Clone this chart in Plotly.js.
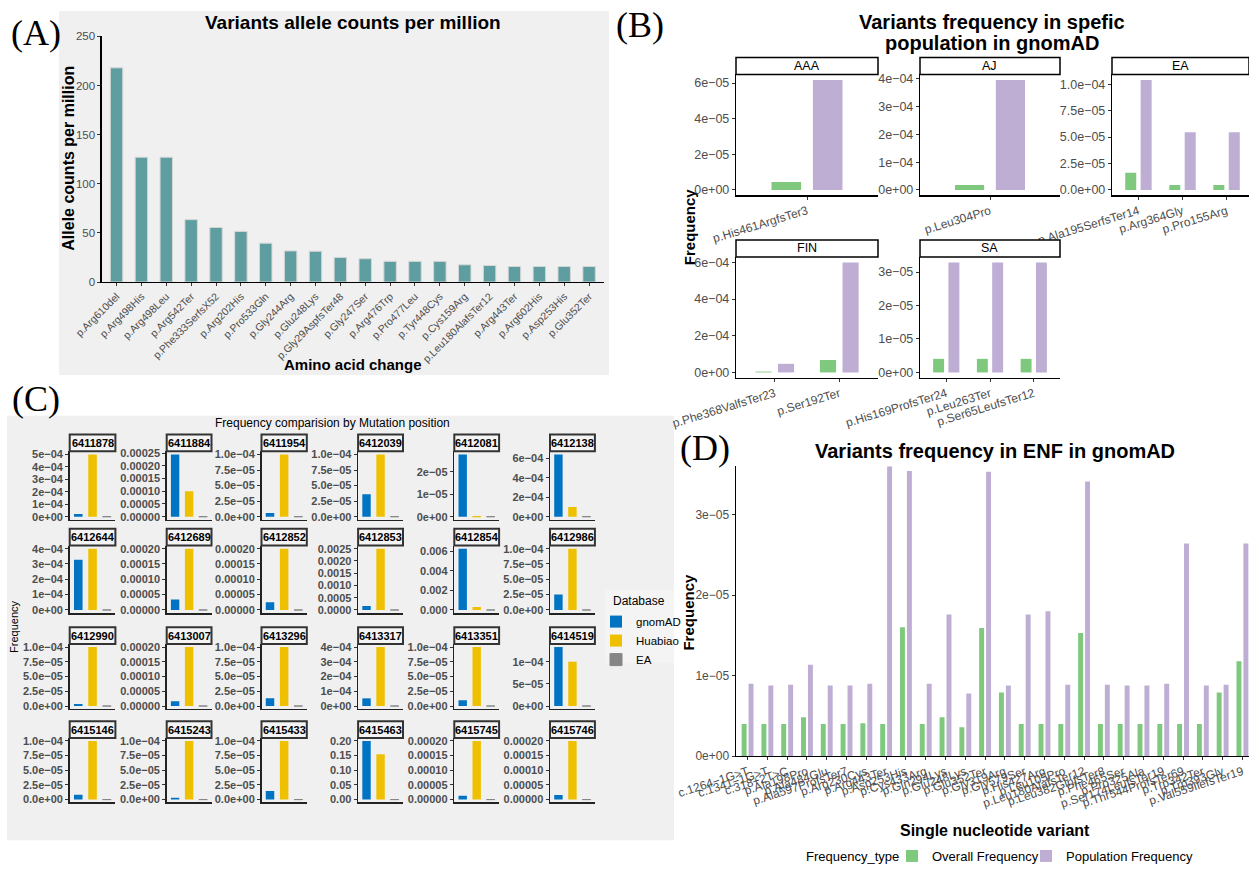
<!DOCTYPE html>
<html><head><meta charset="utf-8">
<script src="https://cdn.plot.ly/plotly-3.0.1.min.js"></script>
<style>html,body{margin:0;padding:0;background:#fff}</style>
</head><body><div id="chart" style="width:1249px;height:871px"></div>
<script>
// ---------------- Panel A data ----------------
const aVariants = ['p.Arg610del','p.Arg498His','p.Arg498Leu','p.Arg542Ter','p.Phe333SerfsX52','p.Arg202His','p.Pro533Gln','p.Gly244Arg','p.Glu248Lys','p.Gly29AspfsTer48','p.Gly247Ser','p.Arg476Trp','p.Pro477Leu','p.Tyr448Cys','p.Cys159Arg','p.Leu180AlafsTer12','p.Arg443Ter','p.Arg602His','p.Asp253His','p.Glu352Ter'];
const aCounts = [218,127,127,63.5,55.5,51.5,39.5,31.7,31.3,25,23.7,21,21,21,17.5,16.8,15.8,15.8,15.8,15.8];

// ---------------- Panel B data ----------------
const bAAAVariants = ['p.His461ArgfsTer3'];
const bAAAOverall = [4.5e-6];
const bAAAPopulation = [6.18e-5];
const bAJVariants = ['p.Leu304Pro'];
const bAJOverall = [1.8e-5];
const bAJPopulation = [3.96e-4];
const bEAVariants = ['p.Ala195SerfsTer14','p.Arg364Gly','p.Pro155Arg'];
const bEAOverall = [1.62e-5,4.7e-6,4.7e-6];
const bEAPopulation = [1.04e-4,5.44e-5,5.44e-5];
const bFINVariants = ['p.Phe368ValfsTer23','p.Ser192Ter'];
const bFINOverall = [4.5e-6,6.8e-5];
const bFINPopulation = [4.7e-5,6.0e-4];
const bSAVariants = ['p.His169ProfsTer24','p.Leu263Ter','p.Ser65LeufsTer12'];
const bSAOverall = [4.06e-6,4.06e-6,4.06e-6];
const bSAPopulation = [3.29e-5,3.29e-5,3.29e-5];

// ---------------- Panel C data ----------------
const cPositions = ['6411878','6411884','6411954','6412039','6412081','6412138',
                    '6412644','6412689','6412852','6412853','6412854','6412986',
                    '6412990','6413007','6413296','6413317','6413351','6414519',
                    '6415146','6415243','6415433','6415463','6415745','6415746'];
const cDatabases = ['gnomAD','Huabiao','EA'];
const cGnomAD = [2.2e-5,2.45e-4,5.9e-6,3.6e-5,2.77e-5,6.4e-4,
                 3.27e-4,3.4e-5,2.5e-5,1.6e-4,6.27e-3,2.53e-5,
                 3.2e-6,1.6e-5,1.3e-5,5.2e-5,9.7e-6,1.33e-4,
                 8.1e-6,3.2e-6,1.46e-5,0.2,1.3e-5,1.6e-5];
const cHuabiao = [5e-4,1e-4,1e-4,1e-4,0,1e-4,
                  4e-4,2e-4,2e-4,2.5e-3,3e-4,1e-4,
                  1e-4,2e-4,1e-4,4e-4,1e-4,1e-4,
                  1e-4,1e-4,1e-4,0.155,2e-4,2e-4];
const cEA = [0,0,0,0,0,0, 0,0,0,0,0,0, 0,0,0,0,0,0, 0,0,0,0,0,0];
// y tick step, number of ticks and label format per facet
const cTickStep = [1e-4,5e-5,2.5e-5,2.5e-5,1e-5,2e-4, 1e-4,5e-5,5e-5,5e-4,2e-3,2.5e-5, 2.5e-5,5e-5,2.5e-5,1e-4,2.5e-5,5e-5, 2.5e-5,2.5e-5,2.5e-5,0.05,5e-5,5e-5];
const cTickCount = [6,6,5,5,3,4, 5,5,5,6,4,5, 5,5,5,5,5,3, 5,5,5,5,5,5];
const cTickFormat = ['e0','f5','e1','e1','e0','e0', 'e0','f5','f5','f4','f3','e1', 'e1','f5','e1','e0','e1','e0', 'e1','e1','e1','f2','f5','f5'];

// ---------------- Panel D data ----------------
const dVariants = ['c.1264-1G>T','c.1341-1G>T','c.318+2T>C','p.Ala198Pro','p.Ala484Glu','p.Ala597ProfsTer7','p.Arg230Cys','p.Arg443Ter','p.Asp253His','p.Cys433Arg','p.Gln294Lys','p.Glu248Lys','p.Glu352Ter','p.Gly319Arg','p.Gly579Ser','p.His427Arg','p.Leu105Pro','p.Leu180AlafsTer12','p.Leu382GlnfsTer8','p.Phe465Ser','p.Pro325Ala','p.Ser174LeufsTer19','p.Thr544ProfsTer69','p.Trp342Ter','p.Trp393Gly','p.Val559IlefsTer19'];
const dOverall = [4.0e-6,4.0e-6,4.0e-6,4.83e-6,4.0e-6,4.0e-6,4.09e-6,4.0e-6,1.6e-5,4.0e-6,4.83e-6,3.6e-6,1.59e-5,7.9e-6,4.0e-6,4.0e-6,4.0e-6,1.53e-5,4.0e-6,4.0e-6,4.0e-6,4.0e-6,4.0e-6,4.0e-6,7.9e-6,1.18e-5];
const dPopulation = [9.0e-6,8.76e-6,8.88e-6,1.134e-5,8.76e-6,8.76e-6,9.0e-6,3.6e-5,3.54e-5,9.0e-6,1.76e-5,7.78e-6,3.53e-5,8.76e-6,1.76e-5,1.8e-5,8.88e-6,3.41e-5,8.88e-6,8.76e-6,8.76e-6,9.0e-6,2.64e-5,8.76e-6,8.88e-6,2.64e-5];

// ================= build figure =================
const W = 1249, H = 871;
const SANS = 'Liberation Sans, Arial, sans-serif';
const SERIF = 'Liberation Serif, Times New Roman, serif';
const TICKGREY = '#4D4D4D';
const GREEN = '#7FC97F', PURPLE = '#BEAED4';
const JCO = {gnomAD:'#0073C2', Huabiao:'#EFC000', EA:'#868686'};

const data = [];
const layout = {
  width: W, height: H, margin: {l:0, r:0, t:0, b:0}, autosize: false,
  paper_bgcolor: '#FFFFFF', plot_bgcolor: 'rgba(0,0,0,0)',
  barmode: 'overlay', hovermode: false, showlegend: true,
  font: {family: SANS, color: '#000'},
  shapes: [], annotations: []
};

function fmt(v, kind, d) {
  let s = kind === 'e' ? v.toExponential(d).replace(/e([+-])(\d)$/, 'e$10$2') : v.toFixed(d);
  return s.replace(/-/g, '\u2212');
}
function tickSpec(step, count, style) {
  const kind = style[0], d = +style.slice(1);
  const vals = [], txt = [];
  for (let i = 0; i < count; i++) { const v = step * i; vals.push(v); txt.push(fmt(v, kind, d)); }
  return {tickmode: 'array', tickvals: vals, ticktext: txt};
}
function ann(text, x, y, size, opts) {
  layout.annotations.push(Object.assign({
    text: text, x: x / W, y: 1 - y / H, xref: 'paper', yref: 'paper', showarrow: false,
    xanchor: 'center', yanchor: 'middle', font: {size: size, color: '#000', family: SANS}
  }, opts || {}));
}
function rect(x0, y0, x1, y1, fill, line, lw, layer) {
  layout.shapes.push({type: 'rect', xref: 'paper', yref: 'paper',
    x0: x0 / W, x1: Math.min(x1, W) / W, y0: 1 - y1 / H, y1: 1 - y0 / H,
    fillcolor: fill, line: {color: line || 'rgba(0,0,0,0)', width: lw || 0}, layer: layer || 'below'});
}

let axN = 0;
// add a subplot whose plot area spans a pixel box; category x axis with n categories
function addSub(x0, x1, y0, y1, cats, xo, yo) {
  axN++;
  const sx = axN === 1 ? '' : String(axN);
  const n = cats.length;
  const ppu = (x1 - x0) / (n + 0.2);
  let xr = [-0.6, n - 0.4];
  let xr1 = x1;
  if (x1 > W) { xr1 = W; xr = [-0.6, -0.6 + (W - x0) / ppu]; }
  layout['xaxis' + sx] = Object.assign({
    domain: [x0 / W, xr1 / W], anchor: 'y' + sx, type: 'category',
    categoryorder: 'array', categoryarray: cats, range: xr,
    showgrid: false, zeroline: false, showline: true, linecolor: '#000', linewidth: 1.2,
    ticks: 'outside', ticklen: 3, tickcolor: '#333', fixedrange: true,
    tickfont: {size: 11, color: TICKGREY, family: SANS}
  }, xo || {});
  layout['yaxis' + sx] = Object.assign({
    domain: [1 - y1 / H, 1 - y0 / H], anchor: 'x' + sx,
    showgrid: false, zeroline: false, showline: true, linecolor: '#000', linewidth: 1.2,
    ticks: 'outside', ticklen: 3, tickcolor: '#333', fixedrange: true,
    tickfont: {size: 11, color: TICKGREY, family: SANS}
  }, yo || {});
  return {xaxis: 'x' + sx, yaxis: 'y' + sx};
}
function ggRange(vals) { const m = Math.max.apply(null, vals); return [-0.05 * m, 1.05 * m]; }

// ---------- backgrounds ----------
rect(59, 11, 609, 378, '#F0F0F0');
rect(7, 419, 674, 847, '#F0F0F0');
rect(605, 595, 674, 668, '#F4F4F4');

// ---------- Panel A ----------
ann('(A)', 36, 33, 36, {font: {size: 36, family: SERIF, color: '#000'}});
ann('<b>Variants allele counts per million</b>', 353, 23, 19);
ann('<b>Allele counts per million</b>', 69, 160, 16, {textangle: -90});
ann('<b>Amino acid change</b>', 353, 367, 15);
{
  const ax = addSub(101.6, 604, 36.7, 284.3, aVariants,
    {tickangle: -45, tickfont: {size: 10.5, color: TICKGREY, family: SANS}},
    {range: [0, 250], tickmode: 'linear', tick0: 0, dtick: 50, tickfont: {size: 11.5, color: TICKGREY, family: SANS}});
  data.push({type: 'bar', x: aVariants, y: aCounts, width: 0.5, xaxis: ax.xaxis, yaxis: ax.yaxis,
    marker: {color: '#5F9EA0', line: {color: '#D6D6D6', width: 1}}, showlegend: false});
}

// ---------- Panel B ----------
ann('(B)', 640, 25, 36, {font: {size: 36, family: SERIF, color: '#000'}});
ann('<b>Variants frequency in spefic</b>', 992, 22, 20);
ann('<b>population in gnomAD</b>', 992, 43, 20);
ann('<b>Frequency</b>', 689, 229, 15, {textangle: -90});
const bFacets = [
  {name: 'AAA', cats: bAAAVariants, ov: bAAAOverall, pop: bAAAPopulation, box: [736, 878, 75, 197], tk: [2e-5, 4, 'e0']},
  {name: 'AJ', cats: bAJVariants, ov: bAJOverall, pop: bAJPopulation, box: [920, 1060, 75, 197], tk: [1e-4, 5, 'e0']},
  {name: 'EA', cats: bEAVariants, ov: bEAOverall, pop: bEAPopulation, box: [1112, 1253, 75, 197], tk: [2.5e-5, 5, 'e1']},
  {name: 'FIN', cats: bFINVariants, ov: bFINOverall, pop: bFINPopulation, box: [736, 878, 259, 381], tk: [2e-4, 4, 'e0']},
  {name: 'SA', cats: bSAVariants, ov: bSAOverall, pop: bSAPopulation, box: [920, 1060, 259, 381], tk: [1e-5, 4, 'e0']}
];
bFacets.forEach(f => {
  const [x0, x1, y0, y1] = f.box;
  const ax = addSub(x0, x1, y0, y1, f.cats,
    {tickangle: -17, tickfont: {size: 12, color: TICKGREY, family: SANS}},
    Object.assign({range: ggRange(f.ov.concat(f.pop)), tickfont: {size: 12.5, color: TICKGREY, family: SANS}}, tickSpec(f.tk[0], f.tk[1], f.tk[2])));
  rect(x0, y0 - 17, x1, y0, '#FFFFFF', '#000', 1.5, 'above');
  ann(f.name, (x0 + Math.min(x1, W)) / 2, y0 - 8.5, 12.5);
  data.push({type: 'bar', x: f.cats, y: f.ov, width: 0.25, offset: -0.3, xaxis: ax.xaxis, yaxis: ax.yaxis,
    marker: {color: GREEN}, name: 'Overall Frequency', showlegend: false});
  data.push({type: 'bar', x: f.cats, y: f.pop, width: 0.25, offset: 0.05, xaxis: ax.xaxis, yaxis: ax.yaxis,
    marker: {color: PURPLE}, name: 'Population Frequency', showlegend: false});
});

// ---------- Panel C ----------
ann('(C)', 36, 402, 36, {font: {size: 36, family: SERIF, color: '#000'}});
ann('Frequency comparision by Mutation position', 332, 426, 12);
ann('Frequency', 14, 632, 11, {textangle: -90});
ann('Database', 611, 606, 12, {xanchor: 'left'});
const cColX = [[69.7, 115.4], [166.7, 211.5], [261.5, 306.8], [358.1, 403], [454.3, 499.1], [550, 594.9]];
const cRowY = [[455, 524], [550, 618], [649.3, 714.7], [744, 809]];
cPositions.forEach((pos, i) => {
  const [x0, x1] = cColX[i % 6];
  const [y0, y1] = cRowY[Math.floor(i / 6)];
  const vals = [cGnomAD[i], cHuabiao[i], cEA[i]];
  const ax = addSub(x0, x1, y0, y1, cDatabases,
    {showticklabels: false, ticks: '', linewidth: 1.5, linecolor: '#222'},
    Object.assign({range: ggRange(vals), linewidth: 1.5, linecolor: '#222',
      tickfont: {size: 11, color: TICKGREY, family: SANS, weight: 'bold'}},
      tickSpec(cTickStep[i], cTickCount[i], cTickFormat[i])));
  rect(x0, y0 - 17, x1, y0, '#F4F4F4', '#333', 2, 'above');
  ann('<b>' + pos + '</b>', (x0 + x1) / 2, y0 - 8.5, 11);
  cDatabases.forEach((db, k) => {
    data.push({type: 'bar', x: [db], y: [vals[k]], width: 0.6, xaxis: ax.xaxis, yaxis: ax.yaxis,
      marker: {color: JCO[db], line: {color: JCO[db], width: vals[k] === 0 ? 1 : 0}},
      name: db, legendgroup: db, legend: 'legend', showlegend: i === 0});
  });
});

// ---------- Panel D ----------
ann('(D)', 705, 452, 36, {font: {size: 36, family: SERIF, color: '#000'}});
ann('<b>Variants frequency in ENF in gnomAD</b>', 995, 455, 20);
ann('<b>Frequency</b>', 688.5, 617, 15, {textangle: -90});
ann('<b>Single nucleotide variant</b>', 995, 837, 16);
ann('Frequency_type', 804, 863, 13, {xanchor: 'left'});
{
  const ax = addSub(735.7, 1254.3, 470, 762.3, dVariants,
    {tickangle: -18, tickmode: 'array', tickvals: dVariants, ticktext: dVariants.map(s => s.replace(/-/g, '\u2212')),
      tickfont: {size: 12, color: TICKGREY, family: SANS}},
    Object.assign({range: [0, Math.max.apply(null, dPopulation)], tickfont: {size: 12, color: TICKGREY, family: SANS}},
      tickSpec(1e-5, 4, 'e0')));
  data.push({type: 'bar', x: dVariants, y: dOverall, width: 0.25, offset: -0.3, xaxis: ax.xaxis, yaxis: ax.yaxis,
    marker: {color: GREEN}, name: 'Overall Frequency', legend: 'legend2', showlegend: true});
  data.push({type: 'bar', x: dVariants, y: dPopulation, width: 0.25, offset: 0.05, xaxis: ax.xaxis, yaxis: ax.yaxis,
    marker: {color: PURPLE}, name: 'Population Frequency', legend: 'legend3', showlegend: true});
}

layout.legend = {x: 596 / W, y: 1 - 612 / H, xanchor: 'left', yanchor: 'top', bgcolor: 'rgba(0,0,0,0)',
  font: {size: 11.5, color: '#000', family: SANS}, traceorder: 'normal', itemwidth: 30, tracegroupgap: 0};
layout.legend2 = {orientation: 'h', x: 892 / W, y: 1 - 863 / H, xanchor: 'left', yanchor: 'middle', bgcolor: 'rgba(0,0,0,0)',
  font: {size: 13, color: '#000', family: SANS}, itemwidth: 30};
layout.legend3 = {orientation: 'h', x: 1026 / W, y: 1 - 863 / H, xanchor: 'left', yanchor: 'middle', bgcolor: 'rgba(0,0,0,0)',
  font: {size: 13, color: '#000', family: SANS}, itemwidth: 30};

Plotly.newPlot('chart', data, layout, {displayModeBar: false, staticPlot: true});
</script>
</body></html>
